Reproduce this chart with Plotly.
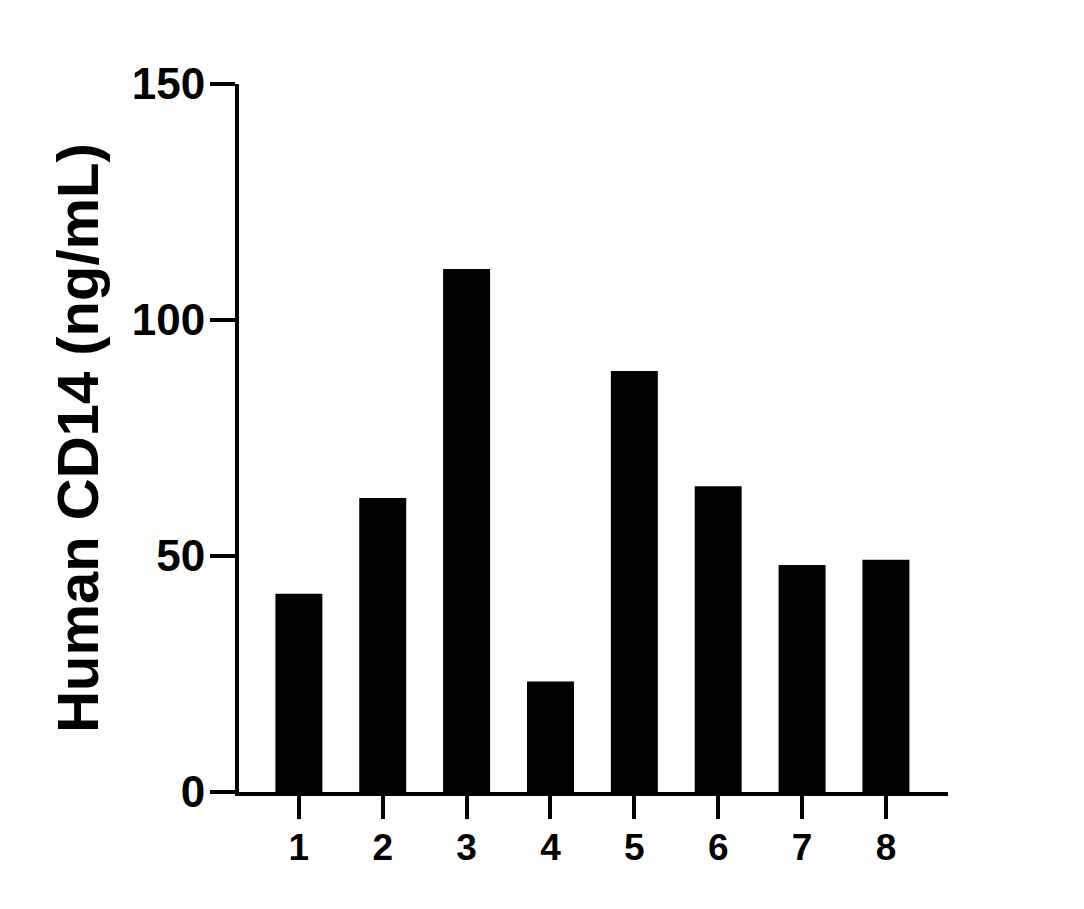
import plotly.graph_objects as go

categories = [1, 2, 3, 4, 5, 6, 7, 8]
values = [42.0, 62.3, 110.8, 23.4, 89.2, 64.8, 48.1, 49.2]
tick_labels = ["1", "2", "3", "4", "5", "6", "7", "8"]
y_ticks = [0, 50, 100, 150]

FONT = "Liberation Sans, Arial, sans-serif"

fig = go.Figure(go.Bar(
    x=categories, y=values, width=0.56,
    marker=dict(color="black", line=dict(width=0)),
))

fig.update_layout(
    width=1084, height=909,
    margin=dict(l=231, r=144, t=76, b=125),
    paper_bgcolor="white", plot_bgcolor="white",
    showlegend=False,
    font=dict(family=FONT, color="black"),
)
fig.update_xaxes(
    range=[0.286, 8.74], tickvals=categories, ticktext=tick_labels,
    showline=True, linecolor="black", linewidth=4,
    ticks="outside", ticklen=23, tickwidth=4, tickcolor="black",
    tickfont=dict(family=FONT, size=37, color="black", weight="bold"),
    ticklabelstandoff=-3,
    showgrid=False, zeroline=False,
)
fig.update_yaxes(
    range=[0, 150], tickvals=y_ticks,
    showline=True, linecolor="black", linewidth=4,
    ticks="outside", ticklen=25, tickwidth=4, tickcolor="black",
    tickfont=dict(family=FONT, size=44, color="black", weight="bold"),
    ticklabelstandoff=-4,
    showgrid=False, zeroline=False,
    title=dict(text="Human CD14 (ng/mL)", standoff=15,
               font=dict(family=FONT, size=58, color="black", weight="bold")),
)

fig.write_html("out.html")
